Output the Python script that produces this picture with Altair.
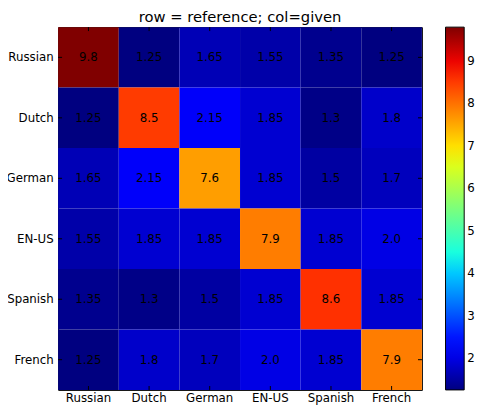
import altair as alt
import pandas as pd

langs = ["Russian", "Dutch", "German", "EN-US", "Spanish", "French"]
row_russian = [9.8, 1.25, 1.65, 1.55, 1.35, 1.25]
row_dutch = [1.25, 8.5, 2.15, 1.85, 1.3, 1.8]
row_german = [1.65, 2.15, 7.6, 1.85, 1.5, 1.7]
row_enus = [1.55, 1.85, 1.85, 7.9, 1.85, 2.0]
row_spanish = [1.35, 1.3, 1.5, 1.85, 8.6, 1.85]
row_french = [1.25, 1.8, 1.7, 2.0, 1.85, 7.9]
rows = [row_russian, row_dutch, row_german, row_enus, row_spanish, row_french]
colorbar_ticks = [2, 3, 4, 5, 6, 7, 8, 9]

records = []
for ref, vals in zip(langs, rows):
    for given, v in zip(langs, vals):
        records.append({"reference": ref, "given": given, "value": v, "label": str(v)})
df = pd.DataFrame(records)
cats = pd.DataFrame({"given": langs, "reference": langs})

# matplotlib "jet" colormap segment definition
_jet = {
    "red": ((0.0, 0.0), (0.35, 0.0), (0.66, 1.0), (0.89, 1.0), (1.0, 0.5)),
    "green": ((0.0, 0.0), (0.125, 0.0), (0.375, 1.0), (0.64, 1.0), (0.91, 0.0), (1.0, 0.0)),
    "blue": ((0.0, 0.5), (0.11, 1.0), (0.34, 1.0), (0.65, 0.0), (1.0, 0.0)),
}


def _interp(seg, t):
    for (x0, y0), (x1, y1) in zip(seg[:-1], seg[1:]):
        if x0 <= t <= x1:
            return y0 + (y1 - y0) * (t - x0) / (x1 - x0) if x1 > x0 else y1
    return seg[-1][1]


stops = sorted({x for seg in _jet.values() for x, _ in seg})
vmin = min(min(r) for r in rows)
vmax = max(max(r) for r in rows)
dom = [vmin + t * (vmax - vmin) for t in stops]
rng = []
for t in stops:
    r, g, b = (_interp(_jet[c], t) for c in ("red", "green", "blue"))
    rng.append("#%02x%02x%02x" % (round(r * 255), round(g * 255), round(b * 255)))

W, H = 370, 369
font = "DejaVu Sans"

xscale = alt.Scale(domain=langs, paddingInner=0, paddingOuter=0)
yscale = alt.Scale(domain=langs, paddingInner=0, paddingOuter=0)

xenc = alt.X("given:N", title=None, scale=xscale,
             axis=alt.Axis(labelAngle=0, ticks=False, tickSize=0, domain=False,
                           labelPadding=3, labelFontSize=12, labelFont=font, labelColor="black"))
yenc = alt.Y("reference:N", title=None, scale=yscale,
             axis=alt.Axis(ticks=False, tickSize=0, domain=False,
                           labelPadding=5, labelFontSize=12, labelFont=font, labelColor="black"))

heat = alt.Chart(df).mark_rect(strokeWidth=0).encode(
    x=xenc, y=yenc,
    color=alt.Color("value:Q", scale=alt.Scale(domain=dom, range=rng, interpolate="rgb"),
                    legend=alt.Legend(orient="none", legendX=394, legendY=0, direction="vertical",
                                      gradientLength=H, gradientThickness=19, title=None,
                                      values=colorbar_ticks, labelFontSize=12, labelFont=font,
                                      labelColor="black", labelOffset=3, padding=0,
                                      gradientStrokeColor="black", gradientStrokeWidth=1,
                                      labelOverlap=False)),
)
text = alt.Chart(df).mark_text(fontSize=12, font=font, color="black", baseline="middle").encode(
    x=alt.X("given:N", scale=xscale), y=alt.Y("reference:N", scale=yscale), text="label:N"
)

tick_c = "black"
t_bottom = alt.Chart(cats).mark_rule(color=tick_c, strokeWidth=1).encode(
    x=alt.X("given:N", scale=xscale), y=alt.value(H - 4), y2=alt.value(H))
t_top = alt.Chart(cats).mark_rule(color=tick_c, strokeWidth=1).encode(
    x=alt.X("given:N", scale=xscale), y=alt.value(0), y2=alt.value(4))
t_left = alt.Chart(cats).mark_rule(color=tick_c, strokeWidth=1).encode(
    y=alt.Y("reference:N", scale=yscale), x=alt.value(0), x2=alt.value(4))
t_right = alt.Chart(cats).mark_rule(color=tick_c, strokeWidth=1).encode(
    y=alt.Y("reference:N", scale=yscale), x=alt.value(W - 4), x2=alt.value(W))

chart = alt.layer(heat, text, t_bottom, t_top, t_left, t_right).properties(
    width=W, height=H,
    title=alt.TitleParams("row = reference; col=given", fontSize=15, font=font,
                          fontWeight="normal", anchor="middle",
                          offset=2, frame="group", color="black"),
    autosize=alt.AutoSizeParams(type="none"),
    padding={"left": 51, "top": 16, "right": 55, "bottom": 20},
).configure_view(stroke="black", strokeWidth=1)

chart.save("out.html", embed_options={"renderer": "svg", "actions": False})
